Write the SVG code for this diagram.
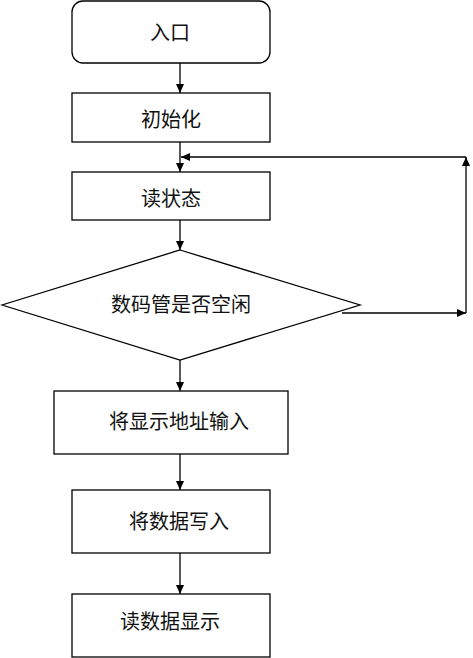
<svg xmlns="http://www.w3.org/2000/svg" width="473" height="658" viewBox="0 0 473 658">
<defs>
<style>
.box{fill:#fff;stroke:#000;stroke-width:1.3}
.t{font-family:"Noto Sans CJK SC","Noto Sans",sans-serif;font-size:20px;fill:#111;text-anchor:middle;dominant-baseline:central}
.c{fill:none;stroke:#000;stroke-width:1.3}
</style>
<marker id="ah" markerWidth="10" markerHeight="10" refX="9" refY="4" orient="auto" markerUnits="userSpaceOnUse">
<path d="M0,0 L9,4 L0,8 Z" fill="#000"/>
</marker>
</defs>
<rect width="473" height="658" fill="#fff"/>
<g id="connectors">
<line class="c" x1="180" y1="63" x2="180" y2="93" marker-end="url(#ah)"/>
<line class="c" x1="180" y1="142" x2="180" y2="172" marker-end="url(#ah)"/>
<line class="c" x1="180" y1="220" x2="180" y2="250" marker-end="url(#ah)"/>
<line class="c" x1="180" y1="360" x2="180" y2="391" marker-end="url(#ah)"/>
<line class="c" x1="180" y1="454" x2="180" y2="490" marker-end="url(#ah)"/>
<line class="c" x1="180" y1="553" x2="180" y2="594" marker-end="url(#ah)"/>
<line class="c" x1="342" y1="313" x2="466" y2="313" marker-end="url(#ah)"/>
<line class="c" x1="466" y1="313" x2="466" y2="157" marker-end="url(#ah)"/>
<line class="c" x1="466" y1="157" x2="181" y2="157" marker-end="url(#ah)"/>
</g>
<g id="n1"><rect class="box" x="72" y="1" width="198" height="62" rx="11"/><text class="t" x="170" y="31">入口</text></g>
<g id="n2"><rect class="box" x="72" y="93" width="198" height="49"/><text class="t" x="171" y="118">初始化</text></g>
<g id="n3"><rect class="box" x="72" y="172" width="198" height="48"/><text class="t" x="171" y="197">读状态</text></g>
<g id="n4"><polygon class="box" points="180,250 360,305 180,360 2,305"/><text class="t" x="181" y="303">数码管是否空闲</text></g>
<g id="n5"><rect class="box" x="54" y="391" width="234" height="63"/><text class="t" x="179" y="420">将显示地址输入</text></g>
<g id="n6"><rect class="box" x="72" y="490" width="198" height="63"/><text class="t" x="179" y="520">将数据写入</text></g>
<g id="n7"><rect class="box" x="72" y="594" width="198" height="63"/><text class="t" x="170" y="620">读数据显示</text></g>
</svg>
